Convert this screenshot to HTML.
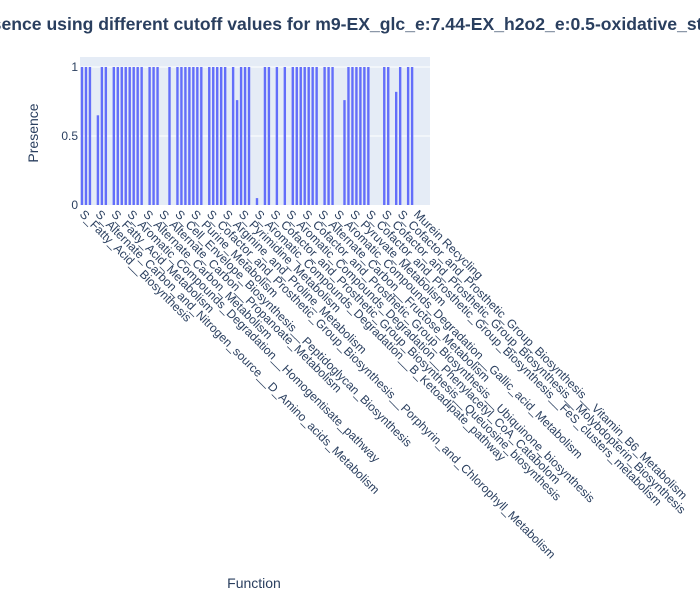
<!DOCTYPE html>
<html><head><meta charset="utf-8"><style>
body{margin:0;background:#fff;}
svg text{font-family:"Liberation Sans",sans-serif;}
</style></head><body>
<svg id="chart" width="700" height="600" xmlns="http://www.w3.org/2000/svg">
<text x="351" y="30" text-anchor="middle" font-size="17.6" font-weight="bold" fill="#2a3f5f">Presence using different cutoff values for m9-EX_glc_e:7.44-EX_h2o2_e:0.5-oxidative_stress</text>
<rect x="80" y="57" width="350" height="148" fill="#e5ecf6"/>
<g id="grid"></g>
<g id="bars"></g>
<g id="yticks"></g>
<g id="xticks"></g>
<text x="0" y="0" transform="translate(38,133) rotate(-90)" text-anchor="middle" font-size="14" fill="#2a3f5f">Presence</text>
<text x="254" y="588" text-anchor="middle" font-size="14" fill="#2a3f5f">Function</text>
</svg>
<script>
const values = [1,1,1,0,0.65,1,1,0,1,1,1,1,1,1,1,1,0,1,1,1,0,0,1,0,1,1,1,1,1,1,1,0,1,1,1,1,1,0,1,0.76,1,1,1,0,0.05,0,1,1,0,1,0,1,0,1,1,1,1,1,1,1,0,1,1,1,0,0,0.76,1,1,1,1,1,1,0,0,0,1,1,0,0.82,1,0,1,1,0,0,0,0];
const tickLabels = ["S_Fatty_Acid__Biosynthesis","S_Alternate_Carbon_and_Nitrogen_source__D_Amino_acids_Metabolism","S_Fatty_Acid_Metabolism","S_Aromatic_Compounds_Degradation__Homogentisate_pathway","S_Alternate_Carbon_Metabolism","S_Alternate_Carbon__Propanoate_Metabolism","S_Cell_Envelope_Biosynthesis__Peptidoglycan_Biosynthesis","S_Purine_Metabolism","S_Cofactor_and_Prosthetic_Group_Biosynthesis__Porphyrin_and_Chlorophyll_Metabolism","S_Arginine_and_Proline_Metabolism","S_Pyrimidine_Metabolism","S_Aromatic_Compounds_Degradation__B_Ketoadipate_pathway","S_Cofactor_and_Prosthetic_Group_Biosynthesis__Queuosine_biosynthesis","S_Aromatic_Compounds_Degradation__Phenylacetyl_CoA_Catabolom","S_Cofactor_and_Prosthetic_Group_Biosynthesis__Ubiquinone_biosynthesis","S_Alternate_Carbon__Fructose_Metabolism","S_Aromatic_Compounds_Degradation__Gallic_acid_Metabolism","S_Pyruvate_Metabolism","S_Cofactor_and_Prosthetic_Group_Biosynthesis__FeS_clusters_metabolism","S_Cofactor_and_Prosthetic_Group_Biosynthesis__Molybdopterin_Biosynthesis","S_Cofactor_and_Prosthetic_Group_Biosynthesis__Vitamin_B6_Metabolism","Murein Recycling"];
const yTicks = [0,0.5,1];
const yTickText = ["0","0.5","1"];
const NS="http://www.w3.org/2000/svg";
const X0=80,X1=430,Y0=205,Y1=67;
const step=(X1-X0)/values.length;
const xs=i=>X0+(i+0.5)*step;
const ys=v=>Y0-(Y0-Y1)*v;
function mk(t,a,p){const e=document.createElementNS(NS,t);for(const k in a)e.setAttribute(k,a[k]);document.getElementById(p).appendChild(e);return e;}
yTicks.forEach((v,i)=>{
  if(v>0){const g=mk('line',{x1:X0,x2:X1,y1:ys(v),y2:ys(v),stroke:'#fff','stroke-width':1},'grid');
  
  }
  const t=mk('text',{x:X0-2,y:ys(v)+4,'text-anchor':'end','font-size':12,fill:'#2a3f5f'},'yticks');
  t.textContent=yTickText[i];
  
  
});
values.forEach((v,i)=>{
  const w=step*0.6;
  const r=mk('rect',{x:xs(i)-w/2,y:ys(v),width:w,height:Y0-ys(v),fill:'#636efa'},'bars');
  
  
});
tickLabels.forEach((lab,k)=>{
  const i=k*4;
  const x=xs(i)-3,y=Y0+10;
  const t=mk('text',{x:0,y:0,transform:`translate(${x},${y}) rotate(45)`,'font-size':12,fill:'#2a3f5f'},'xticks');
  t.textContent=lab;
  
  
});
</script>
</body></html>
